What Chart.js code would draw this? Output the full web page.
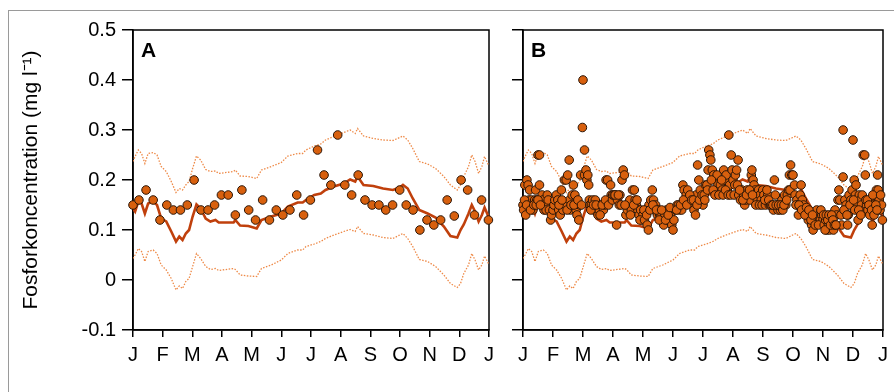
<!DOCTYPE html>
<html>
<head>
<meta charset="utf-8">
<script src="https://cdn.jsdelivr.net/npm/chart.js@4.4.1/dist/chart.umd.min.js"></script>
<style>
  html, body { margin: 0; padding: 0; background: #fff; }
  #wrap { position: relative; width: 894px; height: 392px; overflow: hidden; }
  #frame { position: absolute; left: 8px; top: 10px; width: 1000px; height: 1000px; border: 1px solid #9a9a9a; }
  #chartA { position: absolute; left: 0; top: 0; }
  #chartB { position: absolute; left: 500px; top: 0; }
</style>
</head>
<body>
<div id="wrap">
  <div id="frame"></div>
  <canvas id="chartA" width="500" height="392"></canvas>
  <canvas id="chartB" width="394" height="392"></canvas>
</div>
<script>
const monthLabels = ["J", "F", "M", "A", "M", "J", "J", "A", "S", "O", "N", "D", "J"];
const yTicks = [-0.1, 0, 0.1, 0.2, 0.3, 0.4, 0.5];

// x positions in months (0 = 1 Jan, 12 = 31 Dec) for the modelled lines
const lineMonths = [0, 0.07, 0.18, 0.29, 0.40, 0.51, 0.68, 0.81, 0.95, 1.12,
  1.29, 1.45, 1.56, 1.67, 1.78, 1.89, 2.01, 2.14, 2.28, 2.45,
  2.61, 2.78, 2.89, 3.39, 3.45, 3.61, 3.89, 4.17, 4.33, 4.66,
  5.00, 5.22, 5.55, 5.72, 5.83, 6.11, 6.33, 6.49, 6.77, 7.10,
  7.32, 7.49, 7.57, 7.77, 8.10, 8.43, 8.76, 8.99, 9.10, 9.26,
  9.43, 9.65, 9.93, 10.20, 10.48, 10.70, 10.93, 11.04, 11.15, 11.31,
  11.42, 11.53, 11.65, 11.76, 11.85, 11.98];

const meanLine = [0.143, 0.137, 0.157, 0.153, 0.133, 0.153, 0.157, 0.150, 0.123, 0.117,
  0.097, 0.077, 0.087, 0.080, 0.093, 0.100, 0.127, 0.151, 0.143, 0.123,
  0.117, 0.120, 0.115, 0.115, 0.120, 0.109, 0.108, 0.103, 0.120, 0.127,
  0.133, 0.147, 0.155, 0.155, 0.160, 0.170, 0.173, 0.180, 0.187, 0.193,
  0.201, 0.197, 0.207, 0.190, 0.188, 0.183, 0.180, 0.185, 0.190, 0.183,
  0.163, 0.140, 0.133, 0.125, 0.107, 0.088, 0.085, 0.100, 0.111, 0.133,
  0.150, 0.137, 0.117, 0.130, 0.145, 0.127];

const upperLine = [0.237, 0.247, 0.260, 0.253, 0.233, 0.253, 0.255, 0.250, 0.227, 0.217,
  0.197, 0.175, 0.183, 0.180, 0.190, 0.197, 0.223, 0.248, 0.240, 0.221,
  0.217, 0.218, 0.213, 0.217, 0.220, 0.208, 0.207, 0.203, 0.220, 0.227,
  0.235, 0.248, 0.253, 0.253, 0.260, 0.268, 0.272, 0.280, 0.287, 0.295,
  0.300, 0.293, 0.303, 0.288, 0.283, 0.280, 0.279, 0.285, 0.288, 0.280,
  0.263, 0.237, 0.232, 0.223, 0.207, 0.190, 0.180, 0.190, 0.207, 0.227,
  0.250, 0.237, 0.213, 0.227, 0.247, 0.230];

const lowerLine = [0.043, 0.050, 0.063, 0.057, 0.037, 0.057, 0.060, 0.053, 0.030, 0.020,
  0.003, -0.020, -0.012, -0.017, -0.003, 0.003, 0.027, 0.053, 0.043, 0.027,
  0.021, 0.023, 0.019, 0.023, 0.021, 0.010, 0.008, 0.007, 0.023, 0.030,
  0.040, 0.053, 0.060, 0.060, 0.067, 0.072, 0.077, 0.083, 0.090, 0.097,
  0.101, 0.097, 0.107, 0.093, 0.090, 0.085, 0.083, 0.090, 0.093, 0.083,
  0.067, 0.041, 0.037, 0.027, 0.010, -0.007, -0.015, -0.007, 0.013, 0.030,
  0.053, 0.040, 0.020, 0.030, 0.048, 0.033];

// panel A: weekly samples
const aMonths = [0, 0.2, 0.44, 0.68, 0.91, 1.14, 1.36, 1.60, 1.83, 2.06,
  2.29, 2.53, 2.75, 2.98, 3.21, 3.45, 3.67, 3.90, 4.13, 4.37,
  4.60, 4.83, 5.05, 5.29, 5.52, 5.75, 5.98, 6.22, 6.44, 6.67,
  6.90, 7.14, 7.37, 7.59, 7.82, 8.06, 8.29, 8.52, 8.75, 8.99,
  9.21, 9.44, 9.67, 9.91, 10.14, 10.37, 10.59, 10.83, 11.06, 11.28,
  11.51, 11.75, 11.98];
const aValues = [0.15, 0.16, 0.18, 0.16, 0.12, 0.15, 0.14, 0.14, 0.15, 0.20,
  0.14, 0.14, 0.15, 0.17, 0.17, 0.13, 0.18, 0.14, 0.12, 0.16,
  0.12, 0.14, 0.13, 0.14, 0.17, 0.13, 0.16, 0.26, 0.21, 0.19,
  0.29, 0.19, 0.17, 0.21, 0.16, 0.15, 0.15, 0.14, 0.15, 0.18,
  0.15, 0.14, 0.10, 0.12, 0.11, 0.12, 0.16, 0.128, 0.20, 0.18,
  0.13, 0.16, 0.12];

// panel B: dense samples, [month, value]
const bSamples = [
  [0, 0.15], [0.02, 0.14], [0.09, 0.13], [0.06, 0.19], [0.13, 0.20], [0.17, 0.19], [0.22, 0.18], [0.2, 0.16],
  [0.28, 0.16], [0.31, 0.15], [0.33, 0.14], [0.39, 0.16], [0.42, 0.18], [0.46, 0.16], [0.5, 0.25], [0.55, 0.25],
  [0.55, 0.19], [0.61, 0.16], [0.64, 0.17], [0.66, 0.16], [0.70, 0.14], [0.74, 0.15], [0.77, 0.14], [0.81, 0.17],
  [0.84, 0.16], [0.88, 0.14], [0.92, 0.12], [0.95, 0.13], [1.0, 0.14], [1.03, 0.15], [1.06, 0.16], [1.11, 0.17],
  [0.05, 0.16], [0.12, 0.15], [0.25, 0.14], [0.36, 0.15], [0.44, 0.15], [0.5, 0.16], [0.58, 0.15],
  [1.16, 0.16], [1.19, 0.14], [1.24, 0.13], [1.28, 0.18], [1.33, 0.14], [1.38, 0.20], [1.42, 0.15], [1.44, 0.20],
  [1.49, 0.21], [1.54, 0.24], [1.55, 0.16], [1.58, 0.14], [1.64, 0.17], [1.68, 0.19], [1.73, 0.17], [1.77, 0.14],
  [1.80, 0.13], [1.86, 0.12], [1.90, 0.15], [1.92, 0.21], [2.0, 0.40], [1.98, 0.305], [2.05, 0.26], [2.05, 0.21],
  [2.10, 0.22], [2.13, 0.20], [2.16, 0.21], [2.19, 0.19],
  [1.2, 0.15], [1.3, 0.16], [1.47, 0.14], [1.6, 0.15], [1.7, 0.15], [1.83, 0.16], [1.95, 0.15],
  [2.21, 0.16], [2.23, 0.15], [2.28, 0.15], [2.32, 0.16], [2.37, 0.14], [2.41, 0.16], [2.46, 0.14], [2.5, 0.13],
  [2.54, 0.14], [2.6, 0.15], [2.68, 0.14], [2.72, 0.15], [2.77, 0.20], [2.82, 0.20], [2.88, 0.16], [2.92, 0.19],
  [2.94, 0.17], [2.26, 0.14], [2.35, 0.15], [2.44, 0.15], [2.57, 0.13], [2.64, 0.15], [2.75, 0.16], [2.85, 0.15],
  [2.98, 0.16],
  [2.99, 0.17], [3.04, 0.17], [3.10, 0.17], [3.15, 0.16], [3.12, 0.11], [3.21, 0.15], [3.23, 0.17], [3.30, 0.20],
  [3.34, 0.22], [3.38, 0.21], [3.43, 0.13], [3.48, 0.14], [3.52, 0.15], [3.56, 0.16], [3.61, 0.14], [3.65, 0.18],
  [3.71, 0.18], [3.74, 0.16], [3.78, 0.15], [3.83, 0.14], [3.87, 0.13], [3.92, 0.14], [3.96, 0.12], [4.0, 0.13],
  [3.07, 0.17], [3.18, 0.17], [3.27, 0.15], [3.4, 0.15], [3.58, 0.13], [3.69, 0.15], [3.8, 0.16], [3.9, 0.12],
  [4.05, 0.12], [4.09, 0.14], [4.14, 0.11], [4.18, 0.10], [4.2, 0.15], [4.26, 0.16], [4.31, 0.18], [4.35, 0.16],
  [4.38, 0.14], [4.42, 0.15], [4.48, 0.13], [4.51, 0.14], [4.56, 0.13], [4.60, 0.13], [4.65, 0.12], [4.69, 0.11],
  [4.73, 0.13], [4.78, 0.14], [4.81, 0.12], [4.87, 0.14], [4.92, 0.13], [4.96, 0.11], [5.0, 0.10], [5.03, 0.12],
  [5.09, 0.14], [4.03, 0.14], [4.12, 0.13], [4.23, 0.14], [4.33, 0.15], [4.45, 0.14], [4.54, 0.12], [4.62, 0.14],
  [4.75, 0.12], [4.84, 0.13], [4.9, 0.145],
  [5.14, 0.15], [5.18, 0.15], [5.22, 0.14], [5.29, 0.14], [5.33, 0.19], [5.37, 0.18], [5.40, 0.16], [5.44, 0.17],
  [5.49, 0.18], [5.53, 0.16], [5.59, 0.16], [5.64, 0.15], [5.70, 0.14], [5.75, 0.13], [5.77, 0.17], [5.82, 0.23],
  [5.86, 0.20], [5.91, 0.18], [5.95, 0.16], [6.0, 0.15], [5.12, 0.14], [5.25, 0.15], [5.35, 0.16], [5.46, 0.15],
  [5.56, 0.17], [5.62, 0.16], [5.68, 0.16], [5.8, 0.15], [5.88, 0.16], [5.97, 0.17],
  [6.04, 0.17], [6.08, 0.19], [6.13, 0.19], [6.17, 0.22], [6.19, 0.26], [6.23, 0.25], [6.26, 0.24], [6.31, 0.22],
  [6.36, 0.21], [6.42, 0.20], [6.47, 0.21], [6.50, 0.19], [6.55, 0.18], [6.58, 0.19], [6.64, 0.18], [6.69, 0.22],
  [6.73, 0.20], [6.77, 0.21], [6.81, 0.18], [6.86, 0.29], [6.89, 0.19], [6.94, 0.25], [6.97, 0.22], [7.0, 0.20],
  [6.06, 0.16], [6.15, 0.18], [6.28, 0.20], [6.34, 0.18], [6.4, 0.17], [6.53, 0.17], [6.62, 0.20], [6.67, 0.17],
  [6.75, 0.18], [6.84, 0.17], [6.92, 0.17],
  [7.04, 0.17], [7.08, 0.21], [7.12, 0.22], [7.17, 0.24], [7.19, 0.17], [7.25, 0.16], [7.30, 0.18], [7.36, 0.17],
  [7.39, 0.15], [7.43, 0.16], [7.47, 0.18], [7.52, 0.17], [7.57, 0.16], [7.61, 0.21], [7.63, 0.22], [7.67, 0.20],
  [7.70, 0.19], [7.74, 0.18], [7.78, 0.17], [7.81, 0.16], [7.85, 0.18], [7.90, 0.17], [7.94, 0.16], [7.99, 0.18],
  [7.06, 0.19], [7.15, 0.19], [7.22, 0.18], [7.33, 0.16], [7.45, 0.17], [7.55, 0.18], [7.65, 0.17], [7.76, 0.15],
  [7.88, 0.15], [7.97, 0.15],
  [8.03, 0.17], [8.08, 0.15], [8.11, 0.16], [8.16, 0.17], [8.21, 0.15], [8.25, 0.15], [8.30, 0.15], [8.35, 0.14],
  [8.38, 0.20], [8.41, 0.17], [8.46, 0.15], [8.50, 0.14], [8.54, 0.15], [8.58, 0.14], [8.63, 0.16], [8.68, 0.15],
  [8.72, 0.17], [8.76, 0.15], [8.81, 0.17], [8.85, 0.18], [8.88, 0.21], [8.92, 0.23], [8.96, 0.21], [9.0, 0.21],
  [8.06, 0.16], [8.13, 0.18], [8.19, 0.16], [8.28, 0.15], [8.33, 0.15], [8.44, 0.15], [8.52, 0.15], [8.61, 0.15],
  [8.66, 0.14], [8.7, 0.15], [8.79, 0.16], [8.9, 0.18],
  [9.05, 0.19], [9.07, 0.17], [9.13, 0.16], [9.16, 0.15], [9.18, 0.13], [9.24, 0.17], [9.27, 0.19], [9.31, 0.16],
  [9.35, 0.15], [9.38, 0.14], [9.42, 0.14], [9.47, 0.13], [9.51, 0.12], [9.57, 0.13], [9.62, 0.11], [9.67, 0.10],
  [9.71, 0.12], [9.76, 0.13], [9.79, 0.14], [9.82, 0.12], [9.87, 0.13], [9.91, 0.12], [9.96, 0.13], [10.0, 0.12],
  [9.1, 0.15], [9.2, 0.15], [9.29, 0.14], [9.4, 0.13], [9.45, 0.145], [9.53, 0.14], [9.6, 0.12], [9.65, 0.13],
  [9.74, 0.11], [9.85, 0.11], [9.93, 0.14],
  [10.04, 0.11], [10.09, 0.12], [10.13, 0.10], [10.18, 0.11], [10.22, 0.10], [10.27, 0.12], [10.31, 0.11], [10.35, 0.10],
  [10.40, 0.14], [10.45, 0.13], [10.50, 0.16], [10.53, 0.18], [10.56, 0.16], [10.60, 0.13], [10.62, 0.11], [10.67, 0.30],
  [10.67, 0.206], [10.73, 0.16], [10.77, 0.15], [10.82, 0.11], [10.84, 0.13], [10.87, 0.17], [10.93, 0.16], [10.97, 0.18],
  [10.02, 0.13], [10.07, 0.10], [10.11, 0.13], [10.16, 0.12], [10.2, 0.13], [10.25, 0.11], [10.29, 0.13], [10.33, 0.12],
  [10.38, 0.11], [10.43, 0.11], [10.7, 0.14], [10.8, 0.13], [10.9, 0.15],
  [11.0, 0.28], [11.04, 0.20], [11.08, 0.17], [11.12, 0.16], [11.15, 0.15], [11.17, 0.12], [11.21, 0.17], [11.24, 0.16],
  [11.28, 0.15], [11.34, 0.25], [11.39, 0.25], [11.37, 0.14], [11.41, 0.21], [11.45, 0.15], [11.50, 0.14], [11.56, 0.13],
  [11.59, 0.16], [11.64, 0.11], [11.68, 0.15], [11.73, 0.17], [11.78, 0.18], [11.82, 0.21], [11.84, 0.18], [11.87, 0.16],
  [11.90, 0.14], [11.95, 0.15], [11.98, 0.12], [11.02, 0.16], [11.06, 0.14], [11.1, 0.19], [11.19, 0.14], [11.26, 0.13],
  [11.31, 0.17], [11.43, 0.16], [11.48, 0.16], [11.53, 0.15], [11.62, 0.14], [11.66, 0.17], [11.7, 0.13], [11.76, 0.15],
  [11.8, 0.14], [11.92, 0.17]
];

const FONT = '"Liberation Sans", Arial, Helvetica, sans-serif';

function toXY(xs, ys) {
  return xs.map((x, i) => ({ x: x, y: ys[i] }));
}

function fmtTick(v) {
  const r = Math.round(v * 10) / 10;
  return r === 0 ? "0" : r.toFixed(1);
}

function panelLabel(text) {
  return {
    id: "panelLabel",
    beforeDatasetsDraw(chart) {
      const a = chart.chartArea;
      const ctx = chart.ctx;
      ctx.save();
      ctx.strokeStyle = "#000";
      ctx.lineWidth = 1.5;
      ctx.strokeRect(a.left, a.top, a.right - a.left, a.bottom - a.top);
      ctx.fillStyle = "#000";
      ctx.font = "bold 21px " + FONT;
      ctx.textBaseline = "alphabetic";
      ctx.fillText(text, a.left + 8, a.top + 27);
      ctx.restore();
    }
  };
}

function makeChart(id, label, dots, yWidth, rightPad, showYLabels) {
  const datasets = [
    {
      data: dots,
      order: 0,
      clip: false,
      pointRadius: 4.3,
      pointBackgroundColor: "#d8600e",
      pointBorderColor: "#2b1608",
      pointBorderWidth: 1,
      showLine: false
    },
    {
      data: toXY(lineMonths, meanLine),
      order: 1,
      showLine: true,
      borderColor: "#c0400c",
      borderWidth: 2.6,
      pointRadius: 0
    },
    {
      data: toXY(lineMonths, upperLine),
      order: 2,
      showLine: true,
      borderColor: "#ee8a48",
      borderWidth: 1.3,
      borderDash: [1.5, 1.5],
      pointRadius: 0
    },
    {
      data: toXY(lineMonths, lowerLine),
      order: 3,
      showLine: true,
      borderColor: "#ee8a48",
      borderWidth: 1.3,
      borderDash: [1.5, 1.5],
      pointRadius: 0
    }
  ];

  return new Chart(document.getElementById(id), {
    type: "scatter",
    data: { datasets: datasets },
    plugins: [panelLabel(label)],
    options: {
      responsive: false,
      animation: false,
      layout: { padding: { top: 30, right: rightPad, left: 0, bottom: 0 } },
      plugins: { legend: { display: false }, tooltip: { enabled: false } },
      scales: {
        x: {
          type: "linear",
          min: 0,
          max: 12,
          afterFit: s => { s.height = 62; },
          afterBuildTicks: s => { s.ticks = monthLabels.map((m, i) => ({ value: i })); },
          ticks: {
            autoSkip: false,
            maxRotation: 0,
            padding: 6,
            color: "#000",
            font: { size: 20, family: FONT },
            callback: v => monthLabels[v]
          },
          grid: { drawOnChartArea: false, tickLength: 7, color: "#000", lineWidth: 1.5 },
          border: { color: "#000", width: 1.5 }
        },
        y: {
          min: -0.1,
          max: 0.5,
          afterFit: s => { s.width = yWidth; },
          afterBuildTicks: s => { s.ticks = yTicks.map(v => ({ value: v })); },
          ticks: {
            display: showYLabels,
            padding: 6,
            color: "#000",
            font: { size: 20, family: FONT },
            callback: v => fmtTick(v)
          },
          grid: { drawOnChartArea: false, tickLength: 11, color: "#000", lineWidth: 1.5 },
          border: { color: "#000", width: 1.5 },
          title: {
            display: showYLabels,
            text: "Fosforkoncentration (mg l\u207B\u00B9)",
            color: "#000",
            font: { size: 21, family: FONT },
            padding: { top: 19, bottom: 0 }
          }
        }
      }
    }
  });
}

makeChart("chartA", "A", toXY(aMonths, aValues), 133, 6, true);
makeChart("chartB", "B", bSamples.map(p => ({ x: p[0], y: p[1] })), 23, 9, false);
</script>
</body>
</html>
